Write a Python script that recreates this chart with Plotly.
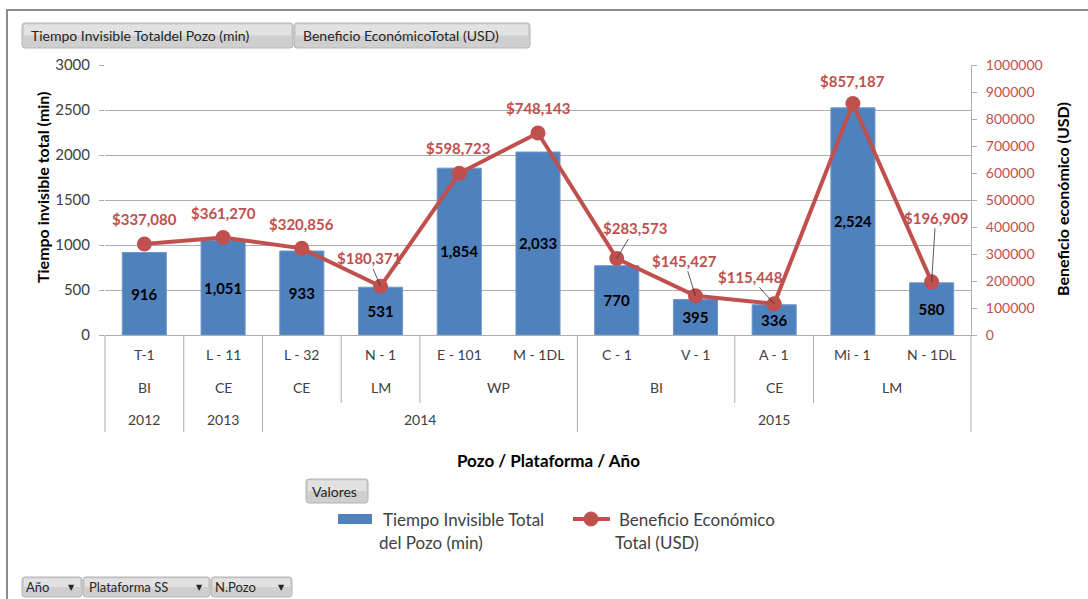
import plotly.graph_objects as go

# ---------------- data ----------------
pozos = ["T-1", "L - 11", "L - 32", "N - 1", "E - 101", "M - 1DL",
         "C - 1", "V - 1", "A - 1", "Mi - 1", "N - 1DL"]
plataformas = ["BI", "CE", "CE", "LM", "WP", "WP", "BI", "BI", "CE", "LM", "LM"]
anios = ["2012", "2013", "2014", "2014", "2014", "2014",
         "2015", "2015", "2015", "2015", "2015"]
tiempo_min = [916, 1051, 933, 531, 1854, 2033, 770, 395, 336, 2524, 580]
beneficio_usd = [337080, 361270, 320856, 180371, 598723, 748143,
                 283573, 145427, 115448, 857187, 196909]

y_ticks_left = [0, 500, 1000, 1500, 2000, 2500, 3000]
y_ticks_right = list(range(0, 1000001, 100000))

# label placement (pixel offsets from point) and leader-line flags
label_dx = [0, 0, 0, -12, -1, 0, 18, -11, -24, 0, 4]
label_dy = [-25, -24, -24, -28, -25, -25, -30, -35, -27, -23, -64]
label_leader = [False, False, False, True, False, False, True, True, True, False, True]

# ---------------- geometry helpers ----------------
W, H = 1088, 599
ML, MR, MT, MB = 105, 117, 65, 264
PW = W - ML - MR
PH = H - MT - MB
FONT = "Lato"
BLUE = "#4F81BD"
RED = "#C0504D"
GRID = "#ADADAD"
TXT = "#404040"


def px(x):
    return (x - ML) / PW


def py(y):
    return (H - MB - y) / PH


def rrect_path(x0, y0, x1, y1, r=3):
    X0, X1, Yt, Yb = px(x0), px(x1), py(y0), py(y1)
    rx, ry = r / PW, r / PH
    return (f"M {X0+rx},{Yt} L {X1-rx},{Yt} Q {X1},{Yt} {X1},{Yt-ry} "
            f"L {X1},{Yb+ry} Q {X1},{Yb} {X1-rx},{Yb} L {X0+rx},{Yb} "
            f"Q {X0},{Yb} {X0},{Yb+ry} L {X0},{Yt-ry} Q {X0},{Yt} {X0+rx},{Yt} Z")


fig = go.Figure()

fig.add_trace(go.Bar(
    x=pozos, y=tiempo_min, name="Tiempo Invisible Total del Pozo (min)",
    marker=dict(color=BLUE, line=dict(color="#6F97CB", width=1)),
    texttemplate="%{y:,}", textposition="inside", insidetextanchor="middle",
    textangle=0,
    textfont=dict(family=FONT, size=15, color="black", weight="bold"),
    showlegend=False,
))

fig.add_trace(go.Scatter(
    x=pozos, y=beneficio_usd, yaxis="y2", mode="lines+markers",
    name="Beneficio Económico Total (USD)",
    line=dict(color=RED, width=4),
    marker=dict(color=RED, size=15),
    showlegend=False,
))

shapes = []
annotations = []

# outer frame
shapes.append(dict(type="rect", xref="paper", yref="paper",
                   x0=px(7), x1=px(1100), y0=py(10), y1=py(620),
                   line=dict(color="#8C8C8C", width=2), fillcolor="rgba(0,0,0,0)",
                   layer="below"))

# line data labels
for i, (p, v) in enumerate(zip(pozos, beneficio_usd)):
    txt = "${:,}".format(v)
    a = dict(x=p, y=v, xref="x", yref="y2", text=txt, xanchor="center", yanchor="middle",
             font=dict(family=FONT, size=15, color=RED, weight="bold"))
    if label_leader[i]:
        a.update(showarrow=True, ax=label_dx[i], ay=label_dy[i], arrowhead=0,
                 arrowwidth=0.8, arrowcolor="#303030", standoff=0)
    else:
        a.update(showarrow=False, xshift=label_dx[i], yshift=-label_dy[i])
    annotations.append(a)

# multi-level category axis
n = len(pozos)
row_y = [355, 387, 419]
for i, p in enumerate(pozos):
    annotations.append(dict(x=p, y=py(row_y[0]), xref="x", yref="paper", text=p,
                            showarrow=False, xanchor="center", yanchor="middle",
                            font=dict(family=FONT, size=14, color=TXT)))


def groups(keys):
    out = []
    start = 0
    for i in range(1, len(keys) + 1):
        if i == len(keys) or keys[i] != keys[start]:
            out.append((start, i - 1))
            start = i
    return out


plat_keys = [(a, b) for a, b in zip(anios, plataformas)]
for s, e in groups(plat_keys):
    annotations.append(dict(x=(s + e) / 2, y=py(row_y[1]), xref="x", yref="paper",
                            text=plataformas[s], showarrow=False,
                            xanchor="center", yanchor="middle",
                            font=dict(family=FONT, size=14, color=TXT)))
for s, e in groups(anios):
    annotations.append(dict(x=(s + e) / 2, y=py(row_y[2]), xref="x", yref="paper",
                            text=anios[s], showarrow=False,
                            xanchor="center", yanchor="middle",
                            font=dict(family=FONT, size=14, color=TXT)))

full_bottom = py(432)
part_bottom = py(403)
for k in range(n + 1):
    if k == 0 or k == n or anios[k] != anios[k - 1]:
        yb = full_bottom
    elif plataformas[k] != plataformas[k - 1]:
        yb = part_bottom
    else:
        continue
    xk = k / n
    shapes.append(dict(type="line", xref="paper", yref="paper", x0=xk, x1=xk,
                       y0=0, y1=yb, line=dict(color=GRID, width=1)))

# axis titles
title_font = dict(family=FONT, size=16, color="black", weight="bold")
annotations.append(dict(x=px(548), y=py(460), xref="paper", yref="paper",
                        text="Pozo / Plataforma / Año", showarrow=False,
                        xanchor="center", yanchor="middle",
                        font=dict(family=FONT, size=17, color="black", weight="bold")))
annotations.append(dict(x=px(42), y=py(187), xref="paper", yref="paper",
                        text="Tiempo invisible total (min)", textangle=-90, showarrow=False,
                        xanchor="center", yanchor="middle", font=title_font))
annotations.append(dict(x=px(1062), y=py(199), xref="paper", yref="paper",
                        text="Beneficio económico (USD)", textangle=-90, showarrow=False,
                        xanchor="center", yanchor="middle", font=title_font))

# pivot-field buttons
buttons = [
    (22, 23, 293, 48, "Tiempo Invisible Totaldel Pozo (min)", False, 7, 14),
    (294, 23, 530, 48, "Beneficio EconómicoTotal (USD)", False, 7, 14),
    (306, 479, 368, 503, "Valores", False, 4, 14),
    (22, 577, 82, 597, "Año", True, 2, 13),
    (83, 577, 210, 597, "Plataforma SS", True, 4, 13),
    (211, 577, 292, 597, "N.Pozo", True, 2, 13),
]
for x0, y0, x1, y1, txt, dd, pad, fs in buttons:
    shapes.append(dict(type="path", xref="paper", yref="paper", path=rrect_path(x0, y0, x1, y1),
                       fillcolor="#CFCFCF", line=dict(color="#B4B4B4", width=1)))
    shapes.append(dict(type="rect", xref="paper", yref="paper",
                       x0=px(x0 + 2), x1=px(x1 - 2), y0=py(y0 + 1.5), y1=py((y0 + y1) / 2),
                       fillcolor="#E2E2E2", line=dict(width=0)))
    annotations.append(dict(x=px(x0 + pad), y=py((y0 + y1) / 2), xref="paper", yref="paper",
                            text=txt, showarrow=False, xanchor="left", yanchor="middle",
                            font=dict(family=FONT, size=fs, color="#262626")))
    if dd:
        annotations.append(dict(x=px(x1 - 11), y=py((y0 + y1) / 2), xref="paper", yref="paper",
                                text="▼", showarrow=False, xanchor="center", yanchor="middle",
                                font=dict(family="DejaVu Sans", size=8, color="#262626")))

# manual legend
shapes.append(dict(type="rect", xref="paper", yref="paper", x0=px(338), x1=px(372),
                   y0=py(514), y1=py(524), fillcolor=BLUE, line=dict(width=0)))
shapes.append(dict(type="line", xref="paper", yref="paper", x0=px(573), x1=px(610),
                   y0=py(519), y1=py(519), line=dict(color=RED, width=4)))
shapes.append(dict(type="circle", xref="paper", yref="paper", x0=px(584), x1=px(598),
                   y0=py(512), y1=py(526), fillcolor=RED, line=dict(color=RED, width=1)))
legend_lines = [
    (381, 519, "Tiempo Invisible Total"),
    (377, 542, "del Pozo (min)"),
    (617, 519, "Beneficio Económico"),
    (613, 542, "Total (USD)"),
]
for x, y, t in legend_lines:
    annotations.append(dict(x=px(x), y=py(y), xref="paper", yref="paper", text=t,
                            showarrow=False, xanchor="left", yanchor="middle",
                            font=dict(family=FONT, size=17, color=TXT)))

fig.update_layout(
    width=W, height=H,
    margin=dict(l=ML, r=MR, t=MT, b=MB, pad=0),
    paper_bgcolor="white", plot_bgcolor="white",
    bargap=0.44,
    font=dict(family=FONT, color=TXT),
    xaxis=dict(type="category", range=[-0.5, n - 0.5], showticklabels=False,
               ticks="", showgrid=False, showline=True, linecolor=GRID, linewidth=1,
               zeroline=False),
    yaxis=dict(range=[0, 3000], tickvals=y_ticks_left, showgrid=True, gridcolor=GRID,
               gridwidth=1, zeroline=False, showline=False, ticks="outside", ticklen=5,
               tickcolor=GRID, tickfont=dict(family=FONT, size=15, color=TXT),
               ticklabelstandoff=6),
    yaxis2=dict(range=[0, 1000000], tickvals=y_ticks_right, overlaying="y", side="right",
                showgrid=False, zeroline=False, showline=True, linecolor=GRID,
                ticks="outside", ticklen=5, tickcolor=GRID, tickformat="d",
                tickfont=dict(family=FONT, size=14, color=RED), ticklabelstandoff=6),
    shapes=shapes,
    annotations=annotations,
    showlegend=False,
)

fig.write_html("out.html", config={"displayModeBar": False},
               post_script="document.body.style.margin='0';document.body.style.overflow='hidden';")
